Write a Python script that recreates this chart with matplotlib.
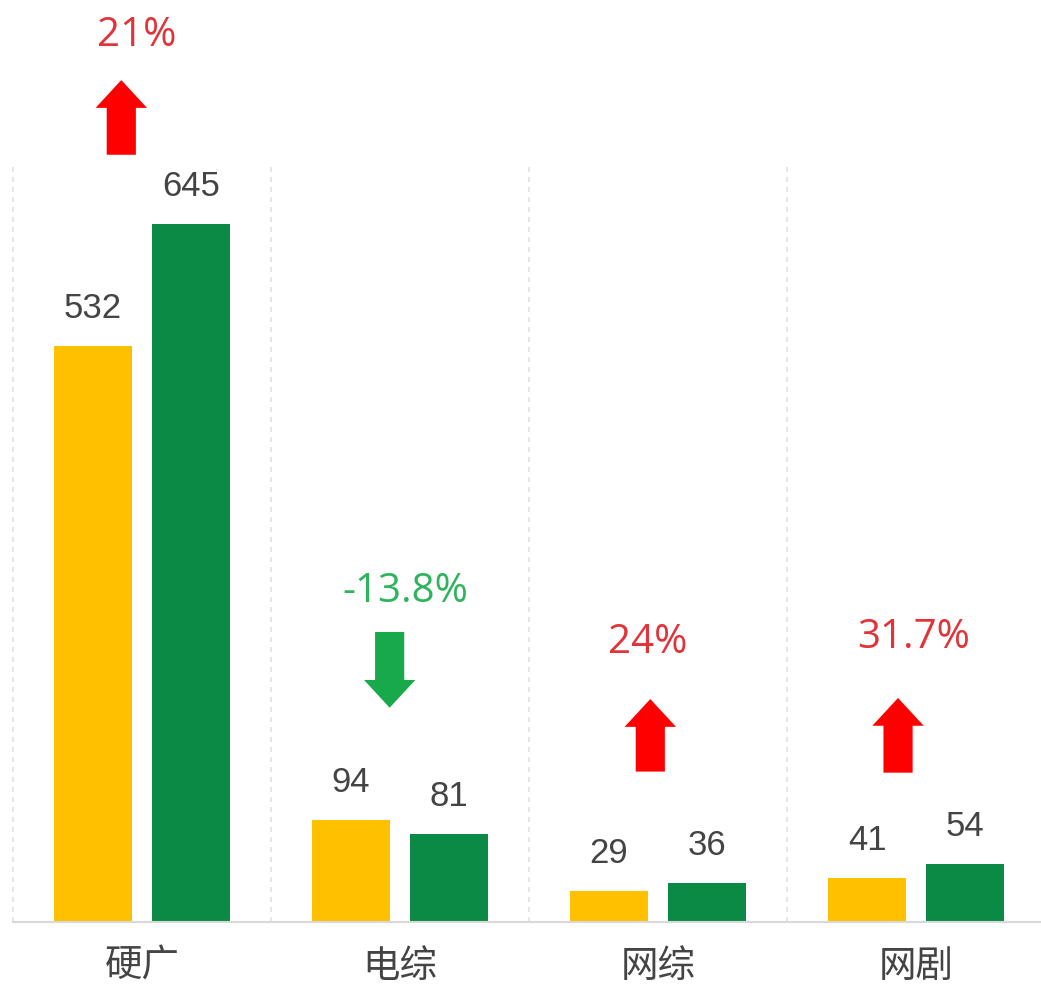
import matplotlib
matplotlib.use('Agg')
import matplotlib.pyplot as plt
from matplotlib.patches import FancyArrowPatch

plt.rcParams['font.family'] = ['Noto Sans CJK SC', 'DejaVu Sans']

# data
categories = ['硬广', '电综', '网综', '网剧']
last_year = [532, 94, 29, 41]
this_year = [645, 81, 36, 54]
change_labels = ['21%', '-13.8%', '24%', '31.7%']
changes = [21, -13.8, 24, 31.7]

# annotation placement (data units): text x offset, text y, arrow x offset, arrow bottom, arrow top
text_dx = [-0.02, 0.02, -0.04, -0.01]
text_y = [819, 305, 258, 263]
arrow_dx = [-0.08, -0.04, -0.03, -0.07]
arrow_lo = [709, 198, 139, 138]
arrow_hi = [778, 268, 206, 207]

yellow = '#FFC000'
green = '#0B8A45'
red_arrow = '#FF0000'
red_text = '#E0343A'
green_arrow = '#18AA4A'
green_text = '#2DB45C'
grey_text = '#444444'

fig = plt.figure(figsize=(10.41, 9.89), dpi=100)
ax = fig.add_axes([0, 67 / 989, 1, 922 / 989])

x = list(range(len(categories)))
w = 0.30
off = 0.19
b1 = ax.bar([i - off for i in x], last_year, w, color=yellow, zorder=2)
b2 = ax.bar([i + off for i in x], this_year, w, color=green, zorder=2)

ax.set_xlim(-0.55, 3.484)
ax.set_ylim(0, 852)

for bars, vals in [(b1, last_year), (b2, this_year)]:
    for rect, v in zip(bars, vals):
        ax.annotate(str(v), (rect.get_x() + rect.get_width() / 2, v),
                    xytext=(0, 27), textcoords='offset points',
                    ha='center', va='center', fontsize=25,
                    color=grey_text, family=['Liberation Sans', 'DejaVu Sans'])

# dotted separators between groups
for i in range(len(categories) + 1):
    ax.axvline(i - 0.5, ymin=0, ymax=700 / 852, color='#e2e2e2',
               lw=1.2, ls=(0, (3, 3)), zorder=1)

for i, (lab, c) in enumerate(zip(change_labels, changes)):
    up = c > 0
    tcol = red_text if up else green_text
    acol = red_arrow if up else green_arrow
    ax.text(i + text_dx[i], text_y[i], lab, ha='center', va='center',
            fontsize=29, color=tcol, family=['Open Sans', 'DejaVu Sans'])
    ax_x = i + arrow_dx[i]
    start, end = (arrow_lo[i], arrow_hi[i]) if up else (arrow_hi[i], arrow_lo[i])
    arr = FancyArrowPatch((ax_x, start), (ax_x, end),
                          arrowstyle='simple,head_width=37,head_length=20,tail_width=21',
                          mutation_scale=1, color=acol, lw=0,
                          shrinkA=0, shrinkB=0, zorder=3)
    ax.add_patch(arr)

ax.set_xticks(x)
ax.set_xticklabels(categories, fontsize=27, color=grey_text)
ax.tick_params(axis='x', length=0, pad=18)
ax.set_yticks([])
for s in ['top', 'right', 'left']:
    ax.spines[s].set_visible(False)
ax.spines['bottom'].set_color('#d9d9d9')
ax.spines['bottom'].set_linewidth(1.5)
ax.spines['bottom'].set_bounds(-0.5, 3.6)

fig.savefig('out.png', dpi=100, facecolor='white')
